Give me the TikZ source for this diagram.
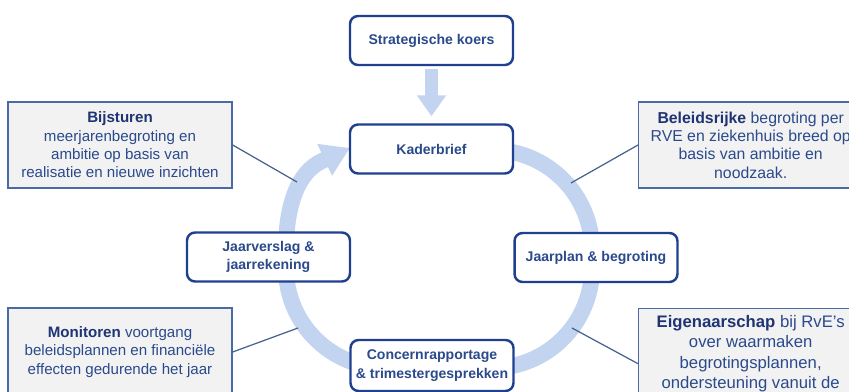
\documentclass[tikz,border=0pt]{standalone}
\usepackage{fontspec}
\setmainfont{Liberation Sans}
\usetikzlibrary{arrows.meta}

\definecolor{boxblue}{HTML}{1F3F8F}
\definecolor{textblue}{HTML}{2A4A8C}
\definecolor{kopblue}{HTML}{1F3473}
\definecolor{ringblue}{HTML}{C3D4F0}
\definecolor{noteblue}{HTML}{4A6AA5}
\definecolor{notegray}{HTML}{F2F2F2}
\definecolor{linkblue}{HTML}{45618F}

\newcommand{\kop}[1]{\textcolor{kopblue}{\textbf{#1}}}

\begin{document}
\begin{tikzpicture}[
x=0.02cm, y=0.02cm,
cyclebox/.style={
rectangle,
rounded corners=0.16cm,
draw=boxblue,
line width=1.4pt,
fill=white,
minimum width=3.26cm,
minimum height=0.98cm,
inner sep=1pt,
align=center,
text=textblue,
font=\bfseries\fontsize{8}{10.5}\selectfont,
},
notebox/.style={
rectangle,
draw=noteblue,
line width=0.8pt,
fill=notegray,
minimum width=4.48cm,
minimum height=1.72cm,
inner sep=1pt,
align=center,
text=textblue,
font=\fontsize{8.6}{10.4}\selectfont,
},
ring/.style={draw=ringblue, line width=0.32cm},
link/.style={draw=linkblue, line width=0.7pt},
]

\useasboundingbox (0,0) rectangle (849,-392);
\clip (0,0) rectangle (849,-392);

% cycle ring
\draw [ring, -{Triangle[width=0.66cm, length=0.56cm]}]
(460,-150) -- (492,-150) arc[start angle=90, end angle=0, radius=100]
-- (592,-268) arc[start angle=0, end angle=-90, radius=100]
-- (386,-368) arc[start angle=-90, end angle=-180, radius=100]
-- (286,-250) .. controls (286,-205) and (298,-172) .. (322,-161)
-- (350,-148)
;

% cycle nodes
\node [cyclebox] at (431.5,-40.5) (koers) {Strategische koers};
\node [cyclebox] at (431.5,-149) (kader) {Kaderbrief};
\node [cyclebox] at (596,-257.5) (jaarplan) {Jaarplan \& begroting};
\node [cyclebox, minimum height=1.02cm] at (432,-365.5) (concern)
{Concernrapportage\\\& trimestergesprekken};
\node [cyclebox] at (268.5,-257) (jaarverslag) {Jaarverslag \&\\jaarrekening};

\draw [draw=ringblue, line width=0.26cm, shorten <=0.06cm, shorten >=0.14cm,
-{Triangle[width=0.56cm, length=0.42cm]}] (koers) -- (kader);

% notes
\node [notebox] at (120,-145) (bijsturen)
{\kop{Bijsturen}\\meerjarenbegroting en\\ambitie op basis van\\realisatie en nieuwe inzichten};
\node [notebox, anchor=west, font=\fontsize{9}{10.4}\selectfont] at (638,-145) (beleid)
{\kop{Beleidsrijke} begroting per\\RVE en ziekenhuis breed op\\basis van ambitie en\\noodzaak.};
\node [notebox, minimum height=1.76cm] at (120,-352) (monitoren)
{\kop{Monitoren} voortgang\\beleidsplannen en financiële\\effecten gedurende het jaar};
\node [notebox, anchor=north west, inner sep=0pt, minimum height=2.2cm,
font=\fontsize{9.5}{11.5}\selectfont] at (638,-308) (eigenaar)
{\kop{Eigenaarschap} bij RvE's\\over waarmaken\\begrotingsplannen,\\ondersteuning vanuit de\\ondersteunende afdelingen};

% ring points
\path
(297,-182) coordinate(rbij)
(571,-183) coordinate(rbel)
(298,-328) coordinate(rmon)
(572,-328) coordinate(reig)
;

\draw [link] (bijsturen.east) -- (rbij);
\draw [link] (beleid.west) -- (rbel);
\draw [link] (monitoren.east) -- (rmon);
\draw [link] (eigenaar.west) -- (reig);

\end{tikzpicture}
\end{document}
